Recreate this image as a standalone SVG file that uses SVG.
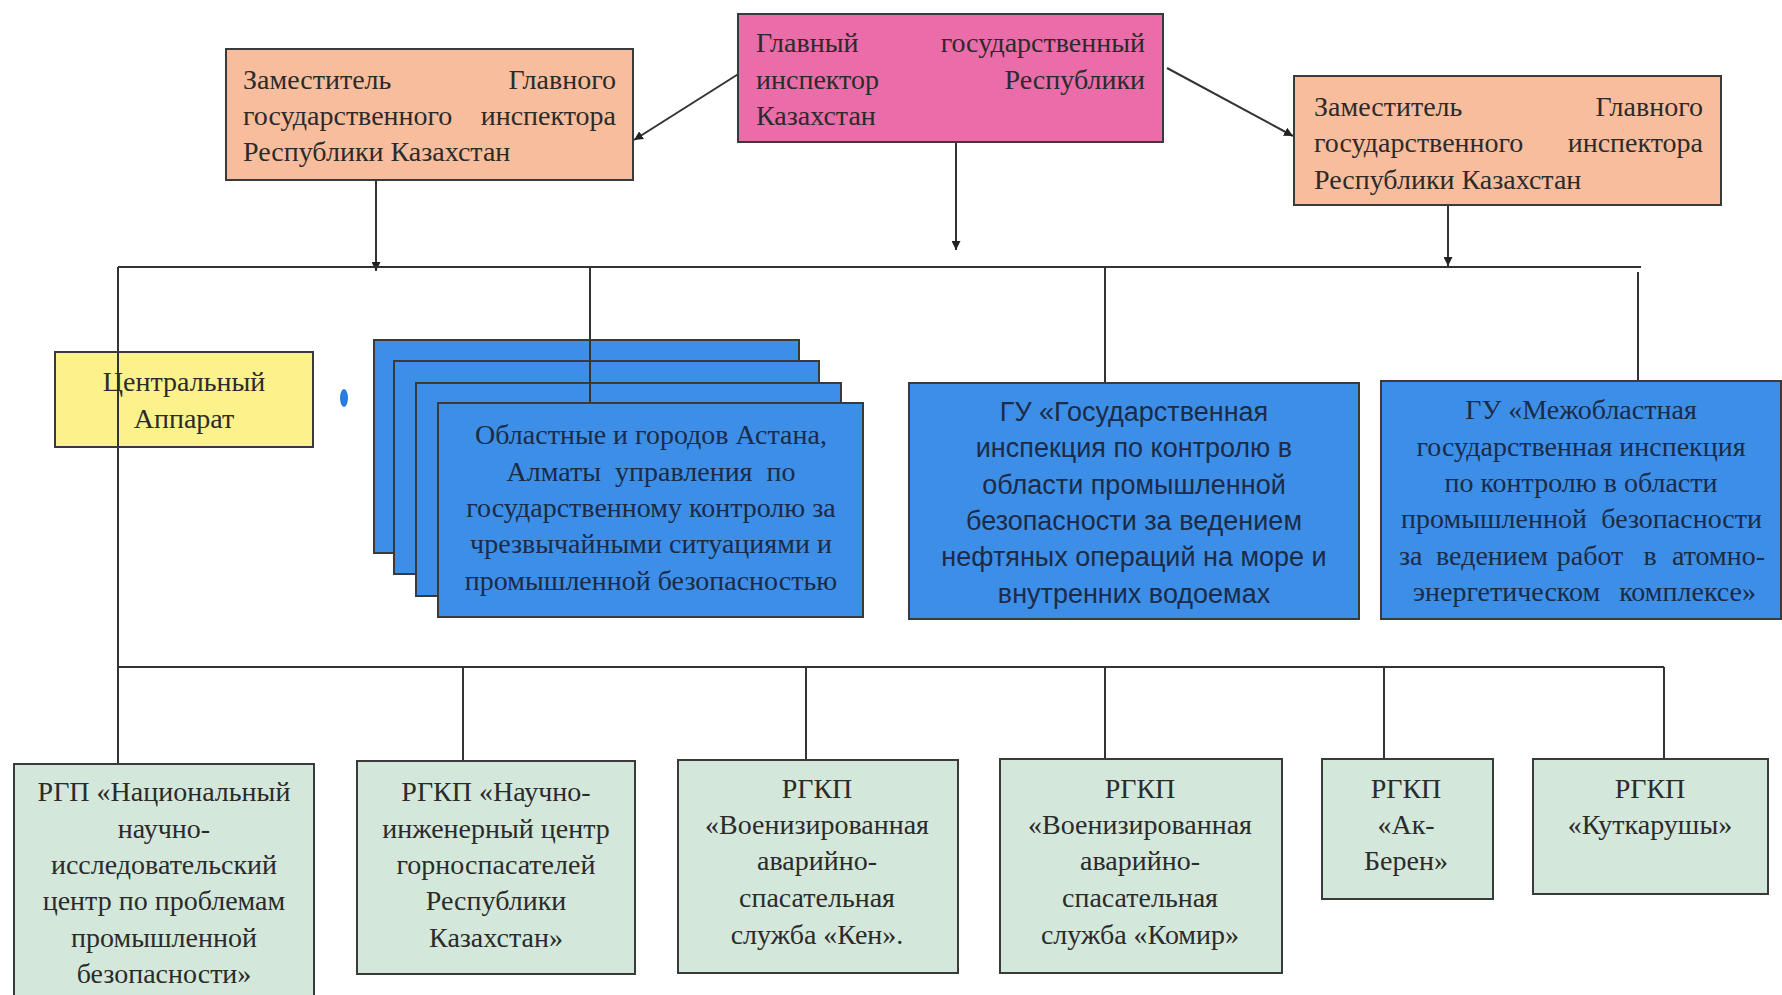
<svg xmlns="http://www.w3.org/2000/svg" width="1782" height="995" viewBox="0 0 1782 995">
<defs>
<marker id="ah" viewBox="0 0 10 10" refX="10" refY="5" markerWidth="9" markerHeight="9" markerUnits="userSpaceOnUse" orient="auto"><path d="M0,0 L10,5 L0,10 z" fill="#222"/></marker>
<style>
.box{stroke:#3a3a3a;stroke-width:2}
.pink{fill:#ea6ca8}
.peach{fill:#f8bd9c}
.yellow{fill:#fbf28c}
.blue{fill:#3d8ee6}
.green{fill:#d3e7da}
.t{font-family:"Liberation Serif","Times New Roman",serif;font-size:28px;fill:#2b2b2b}
.tb{font-family:"Liberation Serif","Times New Roman",serif;font-size:28px;fill:#1b2b48}
.ta{font-family:"Liberation Sans",Arial,sans-serif;font-size:27px;fill:#1b2b48}
.c{text-anchor:middle}
.e{text-anchor:end}
.ln{stroke:#333;stroke-width:2;fill:none}
</style>
</defs>
<rect width="1782" height="995" fill="#fff"/>

<g id="connectors">
<line class="ln" x1="740" y1="73" x2="634" y2="140" marker-end="url(#ah)"/>
<line class="ln" x1="1167" y1="68" x2="1293" y2="136" marker-end="url(#ah)"/>
<line class="ln" x1="956" y1="134" x2="956" y2="250" marker-end="url(#ah)"/>
<line class="ln" x1="376" y1="180" x2="376" y2="271" marker-end="url(#ah)"/>
<line class="ln" x1="1448" y1="196" x2="1448" y2="266" marker-end="url(#ah)"/>
<line class="ln" x1="118" y1="267" x2="1641" y2="267"/>
<line class="ln" x1="118" y1="267" x2="118" y2="764"/>
<line class="ln" x1="590" y1="267" x2="590" y2="420"/>
<line class="ln" x1="1105" y1="267" x2="1105" y2="383"/>
<line class="ln" x1="1638" y1="272" x2="1638" y2="381"/>
<line class="ln" x1="118" y1="667" x2="1664" y2="667"/>
<line class="ln" x1="463" y1="667" x2="463" y2="761"/>
<line class="ln" x1="806" y1="667" x2="806" y2="760"/>
<line class="ln" x1="1105" y1="667" x2="1105" y2="759"/>
<line class="ln" x1="1384" y1="667" x2="1384" y2="759"/>
<line class="ln" x1="1664" y1="667" x2="1664" y2="759"/>
</g>

<g id="chief">
<rect class="box pink" x="738" y="14" width="425" height="128"/>
<text class="t" x="756" y="52">Главный</text><text class="t e" x="1145" y="52">государственный</text>
<text class="t" x="756" y="89">инспектор</text><text class="t e" x="1145" y="89">Республики</text>
<text class="t" x="756" y="125">Казахстан</text>
</g>

<g id="deputy-left">
<rect class="box peach" x="226" y="49" width="407" height="131"/>
<text class="t" x="243" y="89">Заместитель</text><text class="t e" x="616" y="89">Главного</text>
<text class="t" x="243" y="125">государственного</text><text class="t e" x="616" y="125">инспектора</text>
<text class="t" x="243" y="161">Республики Казахстан</text>
</g>

<g id="deputy-right">
<rect class="box peach" x="1294" y="76" width="427" height="129"/>
<text class="t" x="1314" y="116">Заместитель</text><text class="t e" x="1703" y="116">Главного</text>
<text class="t" x="1314" y="152">государственного</text><text class="t e" x="1703" y="152">инспектора</text>
<text class="t" x="1314" y="189">Республики Казахстан</text>
</g>

<g id="central">
<rect class="box yellow" x="55" y="352" width="258" height="95"/>
<line class="ln" x1="118" y1="352" x2="118" y2="447"/>
<text class="t c" x="184" y="391">Центральный</text>
<text class="t c" x="184" y="428">Аппарат</text>
</g>

<ellipse cx="344" cy="398" rx="4" ry="9" fill="#2a7de0"/>

<g id="regional">
<rect class="box blue" x="374" y="340" width="425" height="213"/>
<rect class="box blue" x="394" y="361" width="425" height="213"/>
<rect class="box blue" x="416" y="383" width="425" height="213"/>
<line class="ln" x1="590" y1="340" x2="590" y2="403"/>
<rect class="box blue" x="438" y="403" width="425" height="214"/>
<text class="tb c" x="651" y="444">Областные и городов Астана,</text>
<text class="tb c" x="651" y="481" xml:space="preserve">Алматы  управления  по</text>
<text class="tb c" x="651" y="517">государственному контролю за</text>
<text class="tb c" x="651" y="553">чрезвычайными ситуациями и</text>
<text class="tb c" x="651" y="590">промышленной безопасностью</text>
</g>

<g id="gu-offshore">
<rect class="box blue" x="909" y="383" width="450" height="236"/>
<text class="ta c" x="1134" y="421">ГУ «Государственная</text>
<text class="ta c" x="1134" y="457">инспекция по контролю в</text>
<text class="ta c" x="1134" y="494">области промышленной</text>
<text class="ta c" x="1134" y="530">безопасности за ведением</text>
<text class="ta c" x="1134" y="566">нефтяных операций на море и</text>
<text class="ta c" x="1134" y="603">внутренних водоемах</text>
</g>

<g id="gu-atomic">
<rect class="box blue" x="1381" y="381" width="400" height="238"/>
<text class="tb c" x="1581" y="419">ГУ «Межобластная</text>
<text class="tb c" x="1581" y="456">государственная инспекция</text>
<text class="tb c" x="1581" y="492">по контролю в области</text>
<text class="tb" x="1401" y="528">промышленной</text><text class="tb e" x="1762" y="528">безопасности</text>
<text class="tb" x="1399" y="565">за</text><text class="tb c" x="1492" y="565">ведением</text><text class="tb c" x="1590" y="565">работ</text><text class="tb c" x="1650" y="565">в</text><text class="tb e" x="1765" y="565">атомно-</text>
<text class="tb" x="1413" y="601">энергетическом</text><text class="tb e" x="1756" y="601">комплексе»</text>
</g>

<g id="rgp-national">
<rect class="box green" x="14" y="764" width="300" height="240"/>
<text class="t c" x="164" y="801">РГП «Национальный</text>
<text class="t c" x="164" y="838">научно-</text>
<text class="t c" x="164" y="874">исследовательский</text>
<text class="t c" x="164" y="910">центр по проблемам</text>
<text class="t c" x="164" y="947">промышленной</text>
<text class="t c" x="164" y="983">безопасности»</text>
</g>

<g id="rgkp-gornospas">
<rect class="box green" x="357" y="761" width="278" height="213"/>
<text class="t c" x="496" y="801">РГКП «Научно-</text>
<text class="t c" x="496" y="838">инженерный центр</text>
<text class="t c" x="496" y="874">горноспасателей</text>
<text class="t c" x="496" y="910">Республики</text>
<text class="t c" x="496" y="947">Казахстан»</text>
</g>

<g id="rgkp-ken">
<rect class="box green" x="678" y="760" width="280" height="213"/>
<text class="t c" x="817" y="798">РГКП</text>
<text class="t c" x="817" y="834">«Военизированная</text>
<text class="t c" x="817" y="870">аварийно-</text>
<text class="t c" x="817" y="907">спасательная</text>
<text class="t c" x="817" y="944">служба «Кен».</text>
</g>

<g id="rgkp-komir">
<rect class="box green" x="1000" y="759" width="282" height="214"/>
<text class="t c" x="1140" y="798">РГКП</text>
<text class="t c" x="1140" y="834">«Военизированная</text>
<text class="t c" x="1140" y="870">аварийно-</text>
<text class="t c" x="1140" y="907">спасательная</text>
<text class="t c" x="1140" y="944">служба «Комир»</text>
</g>

<g id="rgkp-akberen">
<rect class="box green" x="1322" y="759" width="171" height="140"/>
<text class="t c" x="1406" y="798">РГКП</text>
<text class="t c" x="1406" y="834">«Ак-</text>
<text class="t c" x="1406" y="870">Берен»</text>
</g>

<g id="rgkp-kutkarushy">
<rect class="box green" x="1533" y="759" width="235" height="135"/>
<text class="t c" x="1650" y="798">РГКП</text>
<text class="t c" x="1650" y="834">«Куткарушы»</text>
</g>
</svg>
